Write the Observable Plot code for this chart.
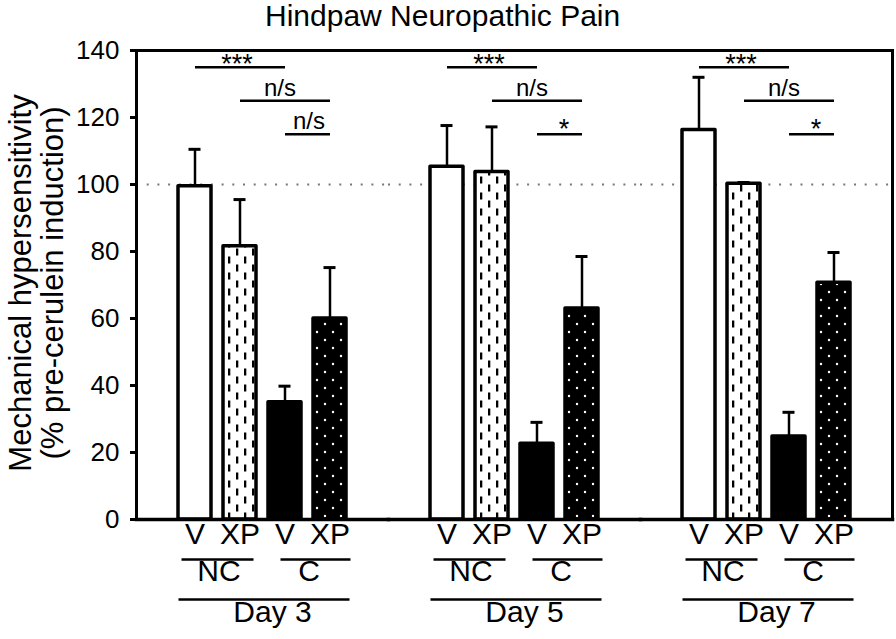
<!DOCTYPE html>
<html>
<head>
<meta charset="utf-8">
<script src="https://cdn.jsdelivr.net/npm/d3@7"></script>
<script src="https://cdn.jsdelivr.net/npm/@observablehq/plot@0.6"></script>
<style>
  body { margin: 0; background: #fff; }
  #wrap { position: relative; width: 896px; height: 639px; font-family: "Liberation Sans", Arial, sans-serif; color: #000; overflow: hidden; }
  #title { position: absolute; left: 265px; top: -1px; font-size: 30px; line-height: 34px; white-space: nowrap; }
  .ylab { position: absolute; white-space: nowrap; font-size: 31px; line-height: 31px; transform: translate(-50%, -50%) rotate(-90deg); }
  #chart { position: absolute; left: 0; top: 0; }
</style>
</head>
<body>
<div id="wrap">
  <svg width="0" height="0" style="position:absolute">
    <defs>
      <pattern id="dashes" width="16" height="16" patternUnits="userSpaceOnUse">
        <rect width="16" height="16" fill="#fff"/>
        <rect x="3" y="0.5" width="2.3" height="7" fill="#000"/>
        <rect x="11" y="8.5" width="2.3" height="7" fill="#000"/>
      </pattern>
      <pattern id="dots" width="16" height="16" patternUnits="userSpaceOnUse">
        <rect width="16" height="16" fill="#000"/>
        <circle cx="4" cy="4" r="1.2" fill="#fff"/>
        <circle cx="12" cy="12" r="1.2" fill="#fff"/>
      </pattern>
    </defs>
  </svg>
  <div id="chart"></div>
  <div id="title">Hindpaw Neuropathic Pain</div>
  <div class="ylab" style="left:20px; top:283px;">Mechanical hypersensitivity</div>
  <div class="ylab" style="left:52px; top:283px;">(% pre-cerulein induction)</div>
</div>
<script>
// ---- data ----
const days = ["Day 3", "Day 5", "Day 7"];
const groups = ["NC-V", "NC-XP", "C-V", "C-XP"];
const barLabels = ["V", "XP", "V", "XP"];
const groupFills = ["#fff", "url(#dashes)", "#000", "url(#dots)"];

const day3Mean = [99.5, 81.6, 35.0, 60.0];
const day3Sem  = [11.0, 13.9, 4.8, 15.2];
const day5Mean = [105.3, 103.7, 22.6, 63.0];
const day5Sem  = [12.3, 13.5, 6.4, 15.5];
const day7Mean = [116.3, 100.2, 24.8, 70.7];
const day7Sem  = [15.7, 0.4, 7.2, 9.0];

const subgroupLabels = ["NC", "C"];
const subgroupFrom = ["NC-V", "C-V"];
const subgroupTo = ["NC-XP", "C-XP"];

const sigFrom = ["NC-V", "NC-XP", "C-V"];
const sigTo = ["C-V", "C-XP", "C-XP"];
const sigLevel = [135, 125, 115];
const day3Sig = ["***", "n/s", "n/s"];
const day5Sig = ["***", "n/s", "*"];
const day7Sig = ["***", "n/s", "*"];

const yTicks = [0, 20, 40, 60, 80, 100, 120, 140];
const referenceLevel = [100];

// ---- tables ----
const means = [day3Mean, day5Mean, day7Mean];
const sems = [day3Sem, day5Sem, day7Sem];
const sigs = [day3Sig, day5Sig, day7Sig];

const rows = days.flatMap((day, di) => groups.map((g, gi) => ({
  day, group: g, label: barLabels[gi], fill: groupFills[gi],
  mean: means[di][gi], upper: means[di][gi] + sems[di][gi]
})));
const subRows = days.flatMap(day => subgroupLabels.map((s, i) => ({
  day, label: s, from: subgroupFrom[i], to: subgroupTo[i], base: 0
})));
const dayRows = days.map(day => ({day, from: groups[0], to: groups[groups.length - 1], base: 0}));
const sigRows = days.flatMap((day, di) => sigFrom.map((f, k) => ({
  day, from: f, to: sigTo[k], level: sigLevel[k], label: sigs[di][k], row: k
})));

const font = "Liberation Sans, Arial, sans-serif";
const isStar = d => d.label !== "n/s";
const sigText = (filter, x, dx, dy, fontSize) => Plot.text(sigRows.filter(filter), {
  fx: "day", x: () => x, y: "level", text: "label", dx, dy,
  lineAnchor: "bottom", fontSize, fill: "#000"
});

const chart = Plot.plot({
  width: 896,
  height: 639,
  marginLeft: 135,
  marginRight: 3,
  marginTop: 50,
  marginBottom: 120,
  style: {fontFamily: font, background: "transparent", color: "#000", overflow: "visible"},
  fx: {domain: days, padding: 0, axis: null},
  x: {domain: groups, paddingInner: 0.26, paddingOuter: 0.8765, axis: null},
  y: {domain: [0, 140]},
  color: {type: "identity"},
  marks: [
    Plot.ruleY(referenceLevel, {stroke: "#777", strokeWidth: 2, strokeDasharray: "2,8.7"}),
    Plot.ruleX(rows, {fx: "day", x: "group", y1: "mean", y2: "upper", strokeWidth: 2.5, stroke: "#000"}),
    Plot.tickY(rows, {fx: "day", x: "group", y: "upper", insetLeft: 10.5, insetRight: 10.5, strokeWidth: 3, stroke: "#000"}),
    Plot.barY(rows, {fx: "day", x: "group", y: "mean", fill: "fill", stroke: "#000", strokeWidth: 3.5, strokeLinejoin: "round"}),
    Plot.axisY({ticks: yTicks, tickSize: 6, tickPadding: 11, fontSize: 26, strokeWidth: 3, label: null}),
    Plot.frame({anchor: "left", facetAnchor: "left", strokeWidth: 3}),
    Plot.frame({anchor: "right", facetAnchor: "right", strokeWidth: 3}),
    Plot.frame({anchor: "top", strokeWidth: 3}),
    Plot.frame({anchor: "bottom", strokeWidth: 3.5}),
    // significance brackets
    Plot.link(sigRows, {fx: "day", x1: "from", x2: "to", y1: "level", y2: "level", strokeWidth: 2.5, stroke: "#000"}),
    sigText(d => d.row === 0, "NC-XP", -3, 6, 27),
    sigText(d => d.row === 1, "C-V", -5, -5, 24),
    sigText(d => d.row === 2 && !isStar(d), "C-V", 24, -5, 24),
    sigText(d => d.row === 2 && isStar(d), "C-V", 27, 4, 27),
    // category labels below
    Plot.text(rows, {fx: "day", x: "group", text: "label", frameAnchor: "bottom", dy: 24, fontSize: 30, fill: "#000"}),
    Plot.ruleY(subRows.filter(d => d.label === "NC"), {fx: "day", x1: "from", x2: "to", y: "base", dy: 40, insetLeft: 3.5, insetRight: 2.5, strokeWidth: 2.5, stroke: "#000"}),
    Plot.ruleY(subRows.filter(d => d.label === "C"), {fx: "day", x1: "from", x2: "to", y: "base", dy: 40, insetLeft: 12.5, insetRight: -4.5, strokeWidth: 2.5, stroke: "#000"}),
    Plot.text(subRows, {fx: "day", x: "from", text: "label", frameAnchor: "bottom", dx: 24, dy: 61, fontSize: 30, fill: "#000"}),
    Plot.ruleY(dayRows, {fx: "day", x1: "from", x2: "to", y: "base", dy: 80, insetLeft: 0.5, insetRight: -3.5, strokeWidth: 2.5, stroke: "#000"}),
    Plot.text(dayRows, {fx: "day", text: "day", frameAnchor: "bottom", dx: 10, dy: 102, fontSize: 30, fill: "#000"})
  ]
});
document.getElementById("chart").appendChild(chart);
</script>
</body>
</html>
